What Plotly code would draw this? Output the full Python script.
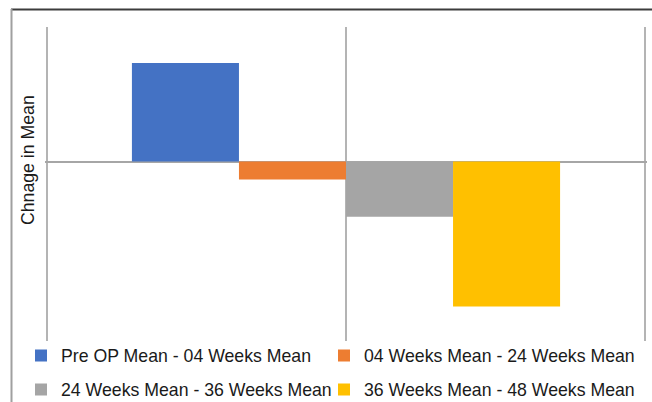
import plotly.graph_objects as go

# Mean differences between consecutive follow-up points
series_names = [
    "Pre OP Mean - 04 Weeks Mean",
    "04 Weeks Mean - 24 Weeks Mean",
    "24 Weeks Mean - 36 Weeks Mean",
    "36 Weeks Mean - 48 Weeks Mean",
]
series_values = [2.20, -0.40, -1.23, -3.23]
series_colors = ["#4472C4", "#ED7D31", "#A5A5A5", "#FFC000"]

W, H = 652, 402
# plot area is widened by 2 px on each side so the edge gridlines are kept
EDGE = 2
L, R, T, B = 47 - EDGE, 7 - EDGE, 27, 61
pw, ph = W - L - R, H - T - B
X_PAD = EDGE / (pw - 2 * EDGE)


def px_x(x):
    return (x - L) / pw


def px_y(y):
    return 1 - (y - T) / ph


FONT = "Liberation Sans, Arial, sans-serif"
TEXT_COLOR = "#1a1a1a"

# legend entries laid out as a 2 x 2 grid: (left px of entry, centre y px)
legend_slots = [(21, 356), (324, 356), (21, 390), (324, 390)]
legend_ids = ["legend", "legend2", "legend3", "legend4"]

fig = go.Figure()
for name, val, col, lg in zip(series_names, series_values, series_colors, legend_ids):
    fig.add_trace(go.Bar(
        x=[0], y=[val], name=name, marker=dict(color=col, line=dict(width=0)),
        legend=lg, hoverinfo="name+y",
    ))

legends = {}
for lg, (lx, ly) in zip(legend_ids, legend_slots):
    legends[lg] = dict(
        x=px_x(lx), y=px_y(ly), orientation="h",
        xanchor="left", yanchor="middle",
        font=dict(family=FONT, size=17.7, color=TEXT_COLOR),
        bgcolor="rgba(0,0,0,0)", borderwidth=0,
    )

fig.update_layout(
    width=W, height=H,
    margin=dict(l=L, r=R, t=T, b=B, pad=0, autoexpand=False),
    paper_bgcolor="white", plot_bgcolor="white",
    barmode="group", bargap=0.284, bargroupgap=0,
    font=dict(family=FONT, color=TEXT_COLOR),
    xaxis=dict(
        range=[-0.5 - X_PAD, 0.5 + X_PAD], tickvals=[-0.5, 0, 0.5],
        showticklabels=False, showgrid=True, gridcolor="#b4b4b4", gridwidth=1.5,
        zeroline=False, showline=False, ticks="",
    ),
    yaxis=dict(
        range=[-4, 3], showticklabels=False, showgrid=False,
        zeroline=True, zerolinecolor="#a6a6a6", zerolinewidth=1.5,
        showline=False, ticks="",
    ),
    annotations=[dict(
        text="Chnage in Mean", textangle=-90, showarrow=False,
        xref="paper", yref="paper", x=px_x(28), y=px_y(160),
        xanchor="center", yanchor="middle",
        font=dict(family=FONT, size=17.7, color=TEXT_COLOR),
    )],
    shapes=[
        dict(type="line", xref="paper", yref="paper",
             x0=px_x(11), x1=px_x(652), y0=px_y(9.5), y1=px_y(9.5),
             line=dict(color="#3c3c3c", width=2)),
        dict(type="line", xref="paper", yref="paper",
             x0=px_x(11.5), x1=px_x(11.5), y0=px_y(9), y1=px_y(402),
             line=dict(color="#a0a0a0", width=2)),
    ],
    showlegend=True,
    **legends,
)

fig.write_html("out.html")
